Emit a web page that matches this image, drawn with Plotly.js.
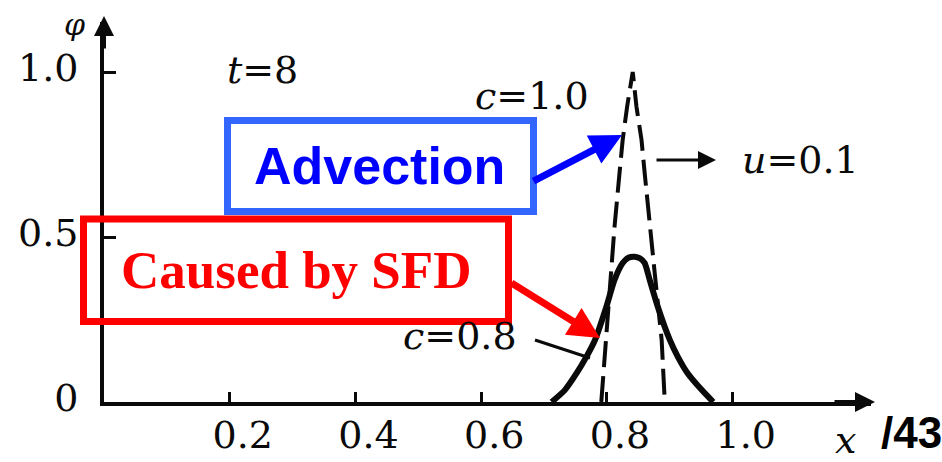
<!DOCTYPE html>
<html>
<head>
<meta charset="utf-8">
<script src="https://cdn.plot.ly/plotly-3.0.1.min.js"></script>
<style>html,body{margin:0;padding:0;background:#fff;}#chart{width:942px;height:462px;}</style>
</head>
<body>
<div id="chart"></div>
<script>
// ---- data ----
const xTickVals = [0.2, 0.4, 0.6, 0.8, 1.0];
const xTickText = ["0.2", "0.4", "0.6", "0.8", "1.0"];
const yTickVals = [0, 0.5, 1.0];
const yTickText = ["0", "0.5", "1.0"];

// c = 1.0 (dashed)
const c10X = [0.791, 0.798, 0.807, 0.812, 0.820, 0.825, 0.832, 0.841, 0.847, 0.855, 0.860, 0.868, 0.876, 0.887, 0.892];
const c10Y = [0, 0.188, 0.39, 0.53, 0.694, 0.794, 0.894, 1.0, 0.894, 0.794, 0.694, 0.53, 0.39, 0.188, 0];

// c = 0.8 (solid)
const c08X = [0.712, 0.733, 0.752, 0.767, 0.781, 0.799, 0.812, 0.825, 0.834, 0.844, 0.853, 0.860, 0.868, 0.881, 0.900, 0.913, 0.928, 0.951, 0.969];
const c08Y = [0, 0.036, 0.088, 0.136, 0.188, 0.288, 0.37, 0.421, 0.437, 0.44, 0.435, 0.421, 0.37, 0.288, 0.188, 0.136, 0.088, 0.036, 0];

// ---- layout geometry ----
const L = 104, T = 22, W = 767, H = 380;
const px = v => (v - L) / W;          // pixel x -> paper x
const py = v => (T + H - v) / H;      // pixel y -> paper y
const SERIF = "DejaVu Serif, serif";
const TIMES = "Liberation Serif, Times New Roman, serif";
const SANS = "Liberation Sans, Arial, sans-serif";
const INK = "#0a0a0a";

const traces = [
  {x: c10X, y: c10Y, type: "scatter", mode: "lines",
   line: {color: INK, width: 4, dash: "26px,9px"}, hoverinfo: "skip"},
  {x: c08X, y: c08Y, type: "scatter", mode: "lines",
   line: {color: INK, width: 6, shape: "spline", smoothing: 0.6}, hoverinfo: "skip"}
];

function txt(text, x, y, size, opts) {
  return Object.assign({xref: "paper", yref: "paper", x: px(x), y: py(y), text: text,
    showarrow: false, xanchor: "center", yanchor: "middle",
    font: {family: SERIF, size: size, color: INK}}, opts || {});
}
function arrow(tx, ty, hx, hy, color, width, size) {
  return {xref: "paper", yref: "paper", x: px(hx), y: py(hy), ax: tx - hx, ay: ty - hy,
    text: "", showarrow: true, arrowhead: 2, arrowsize: size, arrowwidth: width,
    arrowcolor: color, standoff: 0, startstandoff: 0};
}

const annotations = [
  txt("<i>t</i>=8", 262, 70, 38),
  txt("<i>c</i>=1.0", 532, 96, 38),
  txt("<i>u</i>=0.1", 800, 160, 38),
  txt("<i>c</i>=0.8", 460, 336, 38),
  txt("<i>φ</i>", 74, 24, 30),
  txt("<i>x</i>", 845, 440, 38),
  txt("<b>/43</b>", 944, 432, 44, {xanchor: "right", font: {family: SANS, size: 44, color: "#000"}}),
  txt("<b>Advection</b>", 379, 166, 52, {font: {family: SANS, size: 52, color: "#0000ff"}}),
  txt("<b>Caused by SFD</b>", 296, 270, 53, {font: {family: TIMES, size: 53, color: "#ff0000"}}),
  // axis arrows
  arrow(833, 402, 875, 402, INK, 4, 1),
  arrow(104, 50, 104, 16, INK, 4, 1),
  // u arrow
  arrow(655, 160, 716, 160, INK, 3, 1.2),
  // callout arrows
  arrow(532, 182, 622, 135, "#0000ff", 7, 0.9),
  arrow(510, 282, 600, 338, "#ff0000", 7, 0.9)
];

const shapes = [
  {type: "rect", xref: "paper", yref: "paper", x0: px(227.5), x1: px(533.5), y0: py(120.5), y1: py(211.5),
   line: {color: "#3366ff", width: 7}, fillcolor: "rgba(255,255,255,1)", layer: "above"},
  {type: "rect", xref: "paper", yref: "paper", x0: px(83.5), x1: px(508.5), y0: py(219), y1: py(321.5),
   line: {color: "#ff0000", width: 7}, fillcolor: "rgba(0,0,0,0)", layer: "above"},
  {type: "line", xref: "paper", yref: "paper", x0: px(535), y0: py(340), x1: px(590), y1: py(358),
   line: {color: INK, width: 3}}
];

const layout = {
  width: 942, height: 462,
  margin: {l: L, r: 942 - L - W, t: T, b: 462 - T - H, pad: 0},
  paper_bgcolor: "#fff", plot_bgcolor: "#fff",
  showlegend: false,
  font: {family: SERIF, color: INK},
  xaxis: {range: [0, 1.22], showgrid: false, zeroline: false, showline: true, linecolor: INK, linewidth: 4,
          ticks: "inside", ticklen: 10, tickwidth: 3, tickcolor: INK,
          tickvals: xTickVals, ticktext: xTickText, tickfont: {family: SERIF, size: 38, color: INK},
          ticklabelshift: 13, ticklabelstandoff: -4},
  yaxis: {range: [0, H / 330], showgrid: false, zeroline: false, showline: true, linecolor: INK, linewidth: 4,
          ticks: "inside", ticklen: 12, tickwidth: 3, tickcolor: INK,
          tickvals: yTickVals, ticktext: yTickText, tickfont: {family: SERIF, size: 38, color: INK},
          ticklabelstandoff: 14, ticklabelshift: -4},
  annotations: annotations,
  shapes: shapes
};

Plotly.newPlot("chart", traces, layout, {staticPlot: true, displayModeBar: false});
</script>
</body>
</html>
